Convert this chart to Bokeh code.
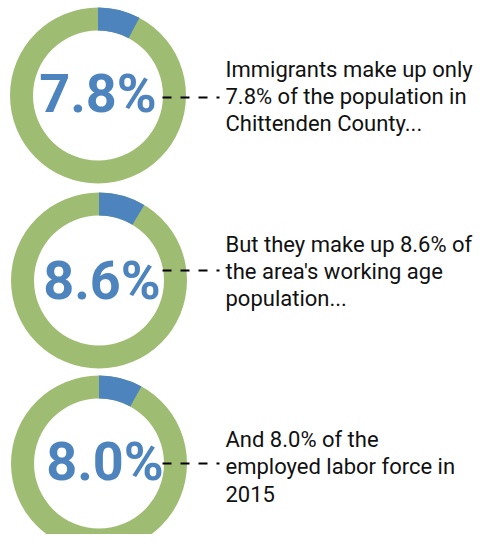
from bokeh.plotting import figure
from bokeh.models import Range1d
from bokeh.core.properties import value
from bokeh.embed import file_html
from bokeh.resources import INLINE
import math

# ---- data ----
shares = [7.8, 8.6, 8.0]
labels = ["7.8%", "8.6%", "8.0%"]
captions = [
    ["Immigrants make up only", "7.8% of the population in", "Chittenden County..."],
    ["But they make up 8.6% of", "the area's working age", "population..."],
    ["And 8.0% of the", "employed labor force in", "2015"],
]

# ---- layout (pixel positions in the picture) ----
H = 550
centers_x = [97.5, 98.5, 98.5]
centers_y = [95, 280, 463]
label_dx = [0, 3, 6]
label_dy = [-2, 0, -2]
dash_y = [97, 270, 463]
caption_top = [77, 252, 447]   # baseline of first caption line
LINE_GAP = 27
R_OUT, R_IN = 88, 65
BLUE = "#4D84BE"
GREEN = "#9FBD72"

p = figure(width=478, height=534, output_backend="svg", toolbar_location=None,
           x_range=Range1d(0, 478), y_range=Range1d(H - 534, H),
           min_border=0, outline_line_color=None)
p.axis.visible = False
p.grid.visible = False

ys = [H - c for c in centers_y]
p.annulus(x=centers_x, y=ys, inner_radius=R_IN, outer_radius=R_OUT,
          fill_color=GREEN, line_color=None)
starts = [math.pi / 2 - 2 * math.pi * s / 100 for s in shares]
p.annular_wedge(x=centers_x, y=ys, inner_radius=R_IN, outer_radius=R_OUT,
                start_angle=starts, end_angle=[math.pi / 2] * 3,
                fill_color=BLUE, line_color=None)

p.text(x=[cx + dx for cx, dx in zip(centers_x, label_dx)],
       y=[y - dy for y, dy in zip(ys, label_dy)], text=labels,
       text_font=value("Roboto"), text_font_style="bold",
       text_font_size="54px", text_color=BLUE,
       text_align="center", text_baseline="middle")

for i, lines in enumerate(captions):
    dy = H - dash_y[i]
    p.line(x=[162, 219], y=[dy, dy], line_color="black", line_width=2.2,
           line_dash="9 9")
    for j, ln in enumerate(lines):
        mid = caption_top[i] + j * LINE_GAP - 8
        p.text(x=[225], y=[H - mid], text=[ln], text_font=value("Roboto"),
               text_font_size="22px", text_color="#111111",
               text_align="left", text_baseline="middle")

open("out.html", "w").write(file_html(p, INLINE))
